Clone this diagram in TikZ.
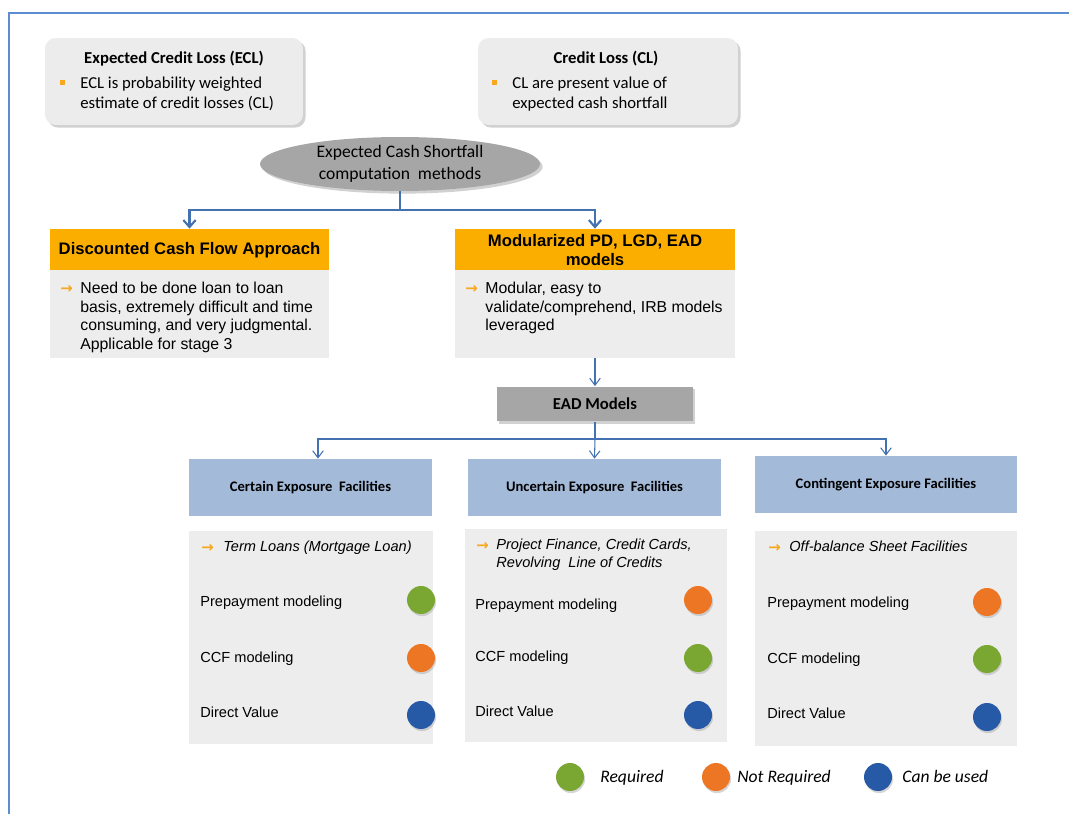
\documentclass[tikz,border=0pt]{standalone}
\usepackage{fontspec}
\setmainfont{Liberation Sans}
\newfontfamily\calfont{Carlito}
\newfontfamily\symfont{DejaVu Sans}
\usetikzlibrary{arrows.meta,shapes.geometric,shadows}

\definecolor{framecol}{RGB}{91,141,208}
\definecolor{linkcol}{RGB}{68,114,176}
\definecolor{notegray}{RGB}{236,236,236}
\definecolor{ovalgray}{RGB}{166,166,166}
\definecolor{headorange}{RGB}{252,174,0}
\definecolor{dotorange}{RGB}{247,168,30}
\definecolor{facblue}{RGB}{163,186,217}
\definecolor{bodygray}{RGB}{237,237,237}
\definecolor{reqgreen}{RGB}{122,167,50}
\definecolor{nrorange}{RGB}{237,118,36}
\definecolor{cbublue}{RGB}{38,89,166}

\begin{document}
\begin{tikzpicture}[x=0.02cm, y=-0.02cm,
  notebox/.style={fill=notegray, rounded corners=6pt, minimum height=1.74cm,
    drop shadow={shadow xshift=1.5pt, shadow yshift=-1.5pt, fill=black!40, opacity=.45}},
  headbox/.style={fill=headorange, inner sep=0pt, minimum height=0.84cm, align=center,
    font=\fontsize{9.5}{11.3}\selectfont\bfseries},
  bodybox/.style={fill=bodygray, inner sep=0pt},
  facbox/.style={fill=facblue, inner sep=0pt, minimum height=1.14cm,
    font=\calfont\fontsize{8.3}{9.5}\selectfont\bfseries},
  para/.style={inner sep=0pt, anchor=north west, align=left},
  rowtext/.style={inner sep=0pt, anchor=base west, font=\fontsize{8.3}{10.2}\selectfont},
  pointer/.style={inner sep=0pt, anchor=base west, text=dotorange, font=\symfont\fontsize{8.5}{10}\selectfont\bfseries},
  dot/.style={circle, inner sep=0pt, minimum size=0.56cm,
    drop shadow={shadow xshift=0.6pt, shadow yshift=-1.2pt, fill=black!40, opacity=.4}},
  link/.style={draw=linkcol, line width=1.2pt},
  thinlink/.style={draw=linkcol, line width=0.6pt}]
  \useasboundingbox (0,0) rectangle (1069,814);
  % Outer frame, top and left edge only.
  \draw[framecol, line width=1.1pt] (1069,13) -- (9,13) -- (9,814);

  % Definition boxes.
  \node[notebox, minimum width=5.16cm] (ecl) at (174,81.5) {};
  \node[anchor=base, inner sep=0pt, font=\calfont\fontsize{9.5}{11.3}\selectfont\bfseries]
    (ecl-title) at (174,64) {Expected Credit Loss (ECL)};
  \node[fill=dotorange, inner sep=0pt, minimum size=0.1cm] (ecl-dot) at (62,83) {};
  \node[para, font=\calfont\fontsize{9.5}{11.3}\selectfont] (ecl-text) at (80,77)
    {ECL is probability weighted\\estimate of credit losses (CL)};
  \node[notebox, minimum width=5.2cm] (cl) at (608,81.5) {};
  \node[anchor=base, inner sep=0pt, font=\calfont\fontsize{9.5}{11.3}\selectfont\bfseries]
    (cl-title) at (606,64) {Credit Loss (CL)};
  \node[fill=dotorange, inner sep=0pt, minimum size=0.1cm] (cl-dot) at (494,83) {};
  \node[para, font=\calfont\fontsize{9.5}{11.3}\selectfont] (cl-text) at (512,77)
    {CL are present value of\\expected cash shortfall};

  % Computation methods.
  \node[ellipse, fill=ovalgray, minimum width=5.6cm, minimum height=1.08cm, inner sep=0pt,
    align=center, font=\calfont\fontsize{10}{12.5}\selectfont,
    drop shadow={shadow xshift=1.5pt, shadow yshift=-1.5pt, fill=black!40, opacity=.45}]
    (esf) at (400,164) {Expected Cash Shortfall\\computation~ methods};
  \node[headbox, minimum width=5.58cm] (dcf-head) at (189.5,250) {Discounted Cash Flow Approach};
  \node[bodybox, minimum width=5.58cm, minimum height=1.76cm] (dcf-body) at (189.5,314) {};
  \node[pointer] (dcf-arr) at (60,294) {→};
  \node[para, font=\fontsize{9}{10.5}\selectfont] (dcf-text) at (80,282)
    {Need to be done loan to loan\\basis, extremely difficult and time\\consuming, and very judgmental.\\Applicable for stage 3};
  \node[headbox, minimum width=5.6cm] (mod-head) at (595,250) {Modularized PD, LGD, EAD\\models};
  \node[bodybox, minimum width=5.6cm, minimum height=1.76cm] (mod-body) at (595,314) {};
  \node[pointer] (mod-arr) at (465,294) {→};
  \node[para, font=\fontsize{9}{10.5}\selectfont] (mod-text) at (485,282)
    {Modular, easy to\\validate/comprehend, IRB models\\leveraged};
  \coordinate (esf-split) at (400,210);
  \draw[link] (esf.south) -- (esf-split);
  \draw[link, -{Straight Barb[length=4pt, width=7pt]}] (esf-split) -| (dcf-head.north);
  \draw[link, -{Straight Barb[length=4pt, width=7pt]}] (esf-split) -| (mod-head.north);

  % EAD models and the three facility types.
  \node[fill=ovalgray, minimum width=3.92cm, minimum height=0.7cm, inner sep=0pt,
    font=\calfont\fontsize{9.5}{11}\selectfont\bfseries,
    drop shadow={shadow xshift=1pt, shadow yshift=-1.2pt, fill=black!40, opacity=.45}]
    (ead) at (595,404) {EAD Models};
  \draw[thinlink, -{Straight Barb[length=4pt, width=6pt]}] (mod-body.south) -- (ead.north);
  \node[facbox, minimum width=4.86cm] (cert-head) at (310.5,487.5) {Certain Exposure~ Facilities};
  \node[facbox, minimum width=5.06cm] (unc-head) at (594.5,487.5) {Uncertain Exposure~ Facilities};
  \node[facbox, minimum width=5.24cm] (con-head) at (886,484.5) {Contingent Exposure Facilities};
  \coordinate (ead-split) at (595,439);
  \draw[thinlink] (ead.south) -- (ead-split);
  \draw[thinlink, -{Straight Barb[length=4pt, width=6pt]}] (ead-split) -| ([xshift=0.15cm]cert-head.north);
  \draw[thinlink, -{Straight Barb[length=4pt, width=6pt]}] (ead-split) -- (unc-head.north);
  \draw[thinlink, -{Straight Barb[length=4pt, width=6pt]}] (ead-split) -| (con-head.north);

  % Certain exposure column.
  \node[bodybox, minimum width=4.88cm, minimum height=4.26cm] (cert-body) at (311,637.5) {};
  \node[pointer] (cert-arr) at (201,552) {→};
  \node[rowtext, font=\fontsize{8.3}{10}\selectfont\itshape] (cert-kind) at (223,551) {Term Loans (Mortgage Loan)};
  \node[rowtext] (cert-pre) at (200,606) {Prepayment modeling};
  \node[rowtext] (cert-ccf) at (200,662) {CCF modeling};
  \node[rowtext] (cert-dv) at (200,717) {Direct Value};
  \node[dot, fill=reqgreen] (cert-pre-dot) at (421,600) {};
  \node[dot, fill=nrorange] (cert-ccf-dot) at (421,658) {};
  \node[dot, fill=cbublue] (cert-dv-dot) at (421,715) {};

  % Uncertain exposure column.
  \node[bodybox, minimum width=5.24cm, minimum height=4.26cm] (unc-body) at (596,635.5) {};
  \node[pointer] (unc-arr) at (476,550) {→};
  \node[para, font=\fontsize{8.3}{10.2}\selectfont\itshape] (unc-kind) at (496,538.5)
    {Project Finance, Credit Cards,\\Revolving~ Line of Credits};
  \node[rowtext] (unc-pre) at (475,609) {Prepayment modeling};
  \node[rowtext] (unc-ccf) at (475,661) {CCF modeling};
  \node[rowtext] (unc-dv) at (475,716) {Direct Value};
  \node[dot, fill=nrorange] (unc-pre-dot) at (698,600) {};
  \node[dot, fill=reqgreen] (unc-ccf-dot) at (698,658) {};
  \node[dot, fill=cbublue] (unc-dv-dot) at (698,715) {};

  % Contingent exposure column.
  \node[bodybox, minimum width=5.24cm, minimum height=4.3cm] (con-body) at (886,638.5) {};
  \node[pointer] (con-arr) at (768,552) {→};
  \node[rowtext, font=\fontsize{8.3}{10}\selectfont\itshape] (con-kind) at (789,551) {Off-balance Sheet Facilities};
  \node[rowtext] (con-pre) at (767,607) {Prepayment modeling};
  \node[rowtext] (con-ccf) at (767,663) {CCF modeling};
  \node[rowtext] (con-dv) at (767,718) {Direct Value};
  \node[dot, fill=nrorange] (con-pre-dot) at (987,602) {};
  \node[dot, fill=reqgreen] (con-ccf-dot) at (987,659) {};
  \node[dot, fill=cbublue] (con-dv-dot) at (987,717) {};

  % Legend.
  \node[dot, fill=reqgreen] (key-req) at (570,777) {};
  \node[rowtext, font=\calfont\fontsize{10}{12}\selectfont\itshape] (key-req-text) at (600,782) {Required};
  \node[dot, fill=nrorange] (key-nr) at (716,777) {};
  \node[rowtext, font=\calfont\fontsize{10}{12}\selectfont\itshape] (key-nr-text) at (737,782) {Not Required};
  \node[dot, fill=cbublue] (key-cbu) at (878,777) {};
  \node[rowtext, font=\calfont\fontsize{10}{12}\selectfont\itshape] (key-cbu-text) at (902,782) {Can be used};
\end{tikzpicture}
\end{document}
